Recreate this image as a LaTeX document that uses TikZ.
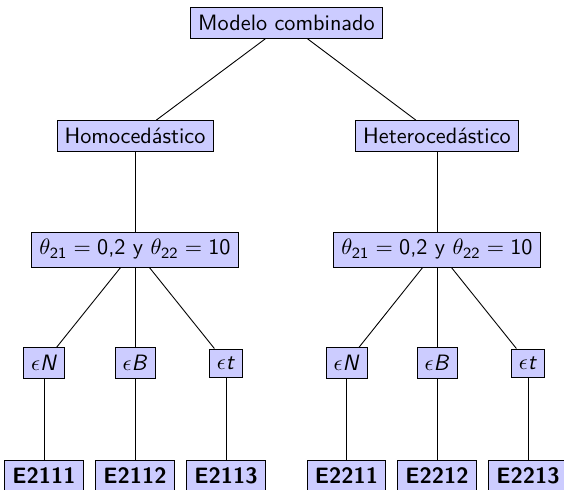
\documentclass[tikz,border=0pt]{standalone}
\usepackage{fontspec}
\usepackage{amsmath}
\begin{document}
\begin{tikzpicture}[x=0.45pt,y=-0.45pt,
  box/.style={draw=black, fill=blue!20, font=\sffamily, inner sep=3.4pt, line width=0.4pt},
  leaf/.style={box, font=\sffamily\bfseries},
  conn/.style={draw=black, line width=0.4pt}]
\useasboundingbox (0,0) rectangle (564,489);
\clip (0,0) rectangle (564,489);
\node[box] (root) at (286.5,23) {Modelo combinado};
\node[box] (homo) at (135,136) {Homocedástico};
\node[box] (hete) at (437,136) {Heterocedástico};
\node[box] (th1) at (135,249.5) {$\theta_{\text{21}}=\text{0,2}$ y $\theta_{\text{22}}=\text{10}$};
\node[box] (th2) at (437,249.5) {$\theta_{\text{21}}=\text{0,2}$ y $\theta_{\text{22}}=\text{10}$};
\node[box] (n1) at (44,363) {$\epsilon$\textit{N}};
\node[box] (b1) at (135,363) {$\epsilon$\textit{B}};
\node[box] (t1) at (226,363) {$\epsilon$\textit{t}};
\node[box] (n2) at (346.5,363) {$\epsilon$\textit{N}};
\node[box] (b2) at (437,363) {$\epsilon$\textit{B}};
\node[box] (t2) at (528,363) {$\epsilon$\textit{t}};
\node[leaf] (e1) at (44,476) {E2111};
\node[leaf] (e2) at (135,476) {E2112};
\node[leaf] (e3) at (226,476) {E2113};
\node[leaf] (e4) at (346.5,476) {E2211};
\node[leaf] (e5) at (437,476) {E2212};
\node[leaf] (e6) at (528,476) {E2213};
\draw[conn] (root) -- (homo);
\draw[conn] (root) -- (hete);
\draw[conn] (homo) -- (th1);
\draw[conn] (hete) -- (th2);
\draw[conn] (th1) -- (n1);
\draw[conn] (th1) -- (b1);
\draw[conn] (th1) -- (t1);
\draw[conn] (th2) -- (n2);
\draw[conn] (th2) -- (b2);
\draw[conn] (th2) -- (t2);
\draw[conn] (n1) -- (e1);
\draw[conn] (b1) -- (e2);
\draw[conn] (t1) -- (e3);
\draw[conn] (n2) -- (e4);
\draw[conn] (b2) -- (e5);
\draw[conn] (t2) -- (e6);
\end{tikzpicture}
\end{document}
